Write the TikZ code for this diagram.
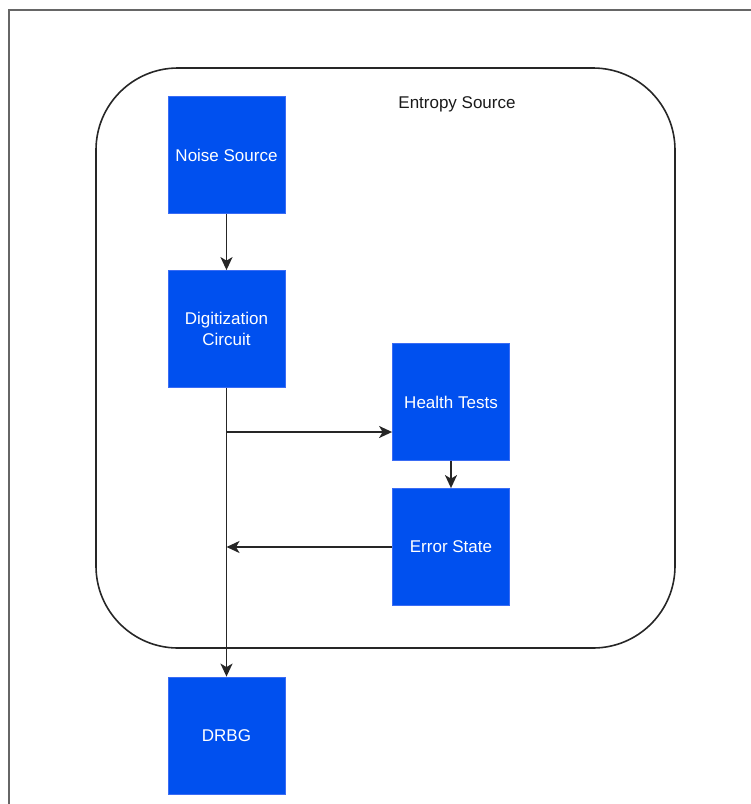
\documentclass[tikz,border=0pt]{standalone}
\usepackage{fontspec}
\setmainfont{Liberation Sans}
\usetikzlibrary{arrows.meta}
\definecolor{dioblue}{HTML}{0050EF}
\definecolor{dioedge}{HTML}{3A6CF4}
\definecolor{txtgray}{HTML}{1A1A1A}
\tikzset{
  bluebox/.style={draw=dioedge, line width=0.8pt, fill=dioblue, minimum width=117pt, minimum height=117pt, inner sep=0pt, text=white, font=\fontsize{17}{21}\selectfont, align=center},
  conn/.style={line width=1.8pt, draw=black!85, -{Stealth[length=13pt,width=12pt,inset=3.5pt]}}
}
\begin{document}
\begin{tikzpicture}[x=1pt,y=-1pt]
\useasboundingbox (0,0) rectangle (751,804);
% outer frame
\draw[line width=1.6pt, draw=black!60] (751,10) -- (9,10) -- (9,804);
% entropy source container
\draw[line width=1.6pt, draw=black!85, rounded corners=82pt] (96,68) rectangle (675,648);
\node[text=txtgray, font=\fontsize{17}{21}\selectfont, anchor=center] (lbl) at (457,104) {Entropy Source};
% boxes
\node[bluebox] (noise) at (226.5,155) {Noise Source};
\node[bluebox] (digit) at (226.5,329) {Digitization\\Circuit};
\node[bluebox] (health) at (451,402) {Health Tests};
\node[bluebox] (error) at (451,547) {Error State};
\node[bluebox] (drbg) at (226.5,735.5) {DRBG};
% connectors
\coordinate (branch) at (226.5,432);
\coordinate (merge) at (226.5,547);
\draw[conn] (noise.south) -- (digit.north);
\draw[conn] (digit.south) -- (drbg.north);
\draw[conn] (branch) -- (health.west |- branch);
\draw[conn] (health.south) -- (error.north);
\draw[conn] (error.west) -- (merge);
\end{tikzpicture}
\end{document}
